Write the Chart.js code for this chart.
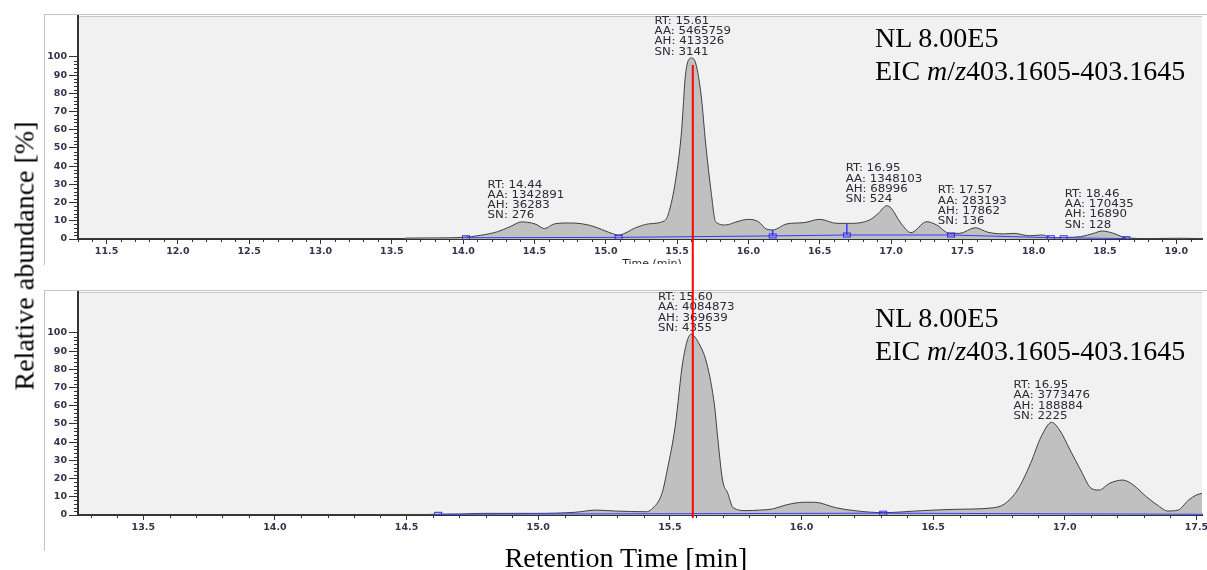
<!DOCTYPE html>
<html lang="en">
<head>
<meta charset="UTF-8">
<title>EIC m/z 403.1605-403.1645</title>
<script src="https://cdn.jsdelivr.net/npm/chart.js@4.4.0/dist/chart.umd.min.js"></script>
<style>
  html, body { margin: 0; padding: 0; background: #fff; }
  body { width: 1207px; height: 570px; position: relative; overflow: hidden;
         font-family: "Liberation Serif", "Times New Roman", serif; }
  .frame { position: absolute; left: 44px; width: 1163px;
           border-left: 1px solid #c4c4c4; border-top: 1px solid #c4c4c4; }
  #frameTop { top: 14px; height: 250px; }
  #frameBot { top: 290px; height: 260px; }
  canvas { position: absolute; left: 0; }
  #topChart { top: 0; }
  #botChart { top: 264px; }
  .nl { position: absolute; left: 875px; font-size: 28px; line-height: 33px; color: #000; white-space: nowrap; }
  .ytitle { position: absolute; left: 24px; top: 256px; font-size: 28px; line-height: 31px; white-space: nowrap;
            transform: translate(-50%, -50%) rotate(-90deg); }
  .xtitle { position: absolute; left: 626px; top: 542px; font-size: 28px; line-height: 31px; white-space: nowrap;
            transform: translateX(-50%); }
</style>
</head>
<body>
<div class="frame" id="frameTop"></div>
<div class="frame" id="frameBot"></div>
<canvas id="topChart" width="1207" height="264"></canvas>
<canvas id="botChart" width="1207" height="306"></canvas>

<div class="nl" style="top:21px">NL 8.00E5<br>EIC <i>m</i>/<i>z</i>403.1605-403.1645</div>
<div class="nl" style="top:301px">NL 8.00E5<br>EIC <i>m</i>/<i>z</i>403.1605-403.1645</div>
<div class="ytitle">Relative abundance [%]</div>
<div class="xtitle">Retention Time [min]</div>

<script>
// ---- data ----
const topTime = [11.30, 13.58, 13.60, 13.80, 14.00, 14.12, 14.24, 14.33, 14.41, 14.45, 14.51, 14.57, 14.64,
  14.74, 14.83, 14.92, 15.02, 15.09, 15.21, 15.30, 15.41, 15.44, 15.49, 15.53, 15.56, 15.60, 15.63, 15.67,
  15.70, 15.74, 15.77, 15.84, 15.92, 16.00, 16.07, 16.13, 16.17, 16.27, 16.39, 16.50, 16.62, 16.73, 16.85,
  16.91, 16.97, 17.00, 17.07, 17.14, 17.25, 17.32, 17.41, 17.48, 17.59, 17.68, 17.79, 17.86, 17.97, 18.06,
  18.13, 18.24, 18.33, 18.42, 18.48, 18.56, 18.65, 18.81, 18.99, 19.05, 19.18];
const topAbund = [0, 0, 0.5, 0.6, 0.9, 2, 4, 6.8, 9.4, 9.2, 8.1, 5.7, 8.3,
  8.8, 8.4, 6.8, 3.7, 2.2, 6.2, 8.3, 9.9, 14, 32.5, 58, 91, 99.4, 96.7, 78,
  52.7, 25, 9.5, 7.7, 9.5, 10.8, 9.5, 5.3, 5, 8.3, 9, 10.8, 8.6, 8.6, 10.5,
  14, 18.3, 17, 8.6, 3.5, 9.5, 7.7, 3.1, 3.1, 6.2, 3.7, 2.8, 3.1, 1.8, 2.2,
  0.7, 0.9, 1.3, 3.1, 4.4, 3.1, 0.6, 0.2, 0.4, 0.4, 0.2];

const botTime = [13.252, 14.38, 14.40, 14.57, 14.61, 14.70, 14.79, 14.99, 15.14, 15.22, 15.29, 15.41, 15.43,
  15.47, 15.49, 15.52, 15.55, 15.58, 15.61, 15.64, 15.67, 15.68, 15.70, 15.72, 15.74, 15.79, 15.84, 15.89,
  15.94, 16.01, 16.05, 16.13, 16.20, 16.31, 16.46, 16.58, 16.73, 16.77, 16.82, 16.87, 16.91, 16.95, 16.98,
  17.02, 17.06, 17.10, 17.13, 17.17, 17.22, 17.26, 17.31, 17.36, 17.39, 17.43, 17.47, 17.50, 17.521];
const botAbund = [0, 0, 0.3, 0.3, 0.4, 0.5, 0.9, 0.9, 1.5, 2.7, 2.2, 1.8, 3.1,
  11.9, 24.7, 48.5, 85, 99.3, 94.3, 83.3, 59.5, 44.9, 19.2, 11.9, 4, 2.4, 2.7, 3.3,
  5.5, 7, 7, 4, 2.4, 1.3, 2.4, 3.1, 4, 6, 13.7, 28.4, 43, 50.9, 46.7,
  35.7, 24.7, 14.7, 13.7, 17.4, 19.2, 16.5, 10, 4.6, 2.2, 2.7, 8.2, 11, 11.9];

// integration baselines and boundary markers
const topBaseTime = [14.02, 15.09, 16.17, 16.69, 17.42, 18.12, 18.21, 18.65];
const topBaseAbund = [0.7, 0.9, 1.7, 2.2, 2.2, 0.7, 0.7, 0.2];
const topDropTime = [16.17, 16.69];
const topDropTop = [5.0, 8.3];
const botBaseTime = [14.62, 16.31, 17.521];
const botBaseAbund = [0.4, 1.0, 0.4];
const botMarkTime = [14.62, 16.31];
const botMarkAbund = [0.4, 1.0];

// peak annotations
const topPeakRT = [14.44, 15.61, 16.95, 17.57, 18.46];
const topPeakAA = [1342891, 5465759, 1348103, 283193, 170435];
const topPeakAH = [36283, 413326, 68996, 17862, 16890];
const topPeakSN = [276, 3141, 524, 136, 128];
const topPeakApex = [9.4, 99.4, 18.3, 6.2, 4.4];
const botPeakRT = [15.60, 16.95];
const botPeakAA = [4084873, 3773476];
const botPeakAH = [369639, 188884];
const botPeakSN = [4355, 2225];
const botPeakApex = [99.3, 50.9];

// axes
const topXTicks = [11.5, 12.0, 12.5, 13.0, 13.5, 14.0, 14.5, 15.0, 15.5, 16.0, 16.5, 17.0, 17.5, 18.0, 18.5, 19.0];
const botXTicks = [13.5, 14.0, 14.5, 15.0, 15.5, 16.0, 16.5, 17.0, 17.5];
const yTicks = [0, 10, 20, 30, 40, 50, 60, 70, 80, 90, 100];
const topRange = [11.30, 19.18];
const botRange = [13.252, 17.521];
const yMax = 122.5;
const markedRT = 15.61;

// ---- helpers ----
const pts = (xs, ys) => xs.map((x, i) => ({ x: x, y: ys[i] }));

function boxMarker() {
  const c = document.createElement('canvas');
  c.width = 10; c.height = 7;
  const g = c.getContext('2d');
  g.strokeStyle = '#2b2bff';
  g.lineWidth = 1;
  g.strokeRect(1.5, 1.5, 7, 4);
  return c;
}
const marker = boxMarker();

const axisInk = '#333';
const tickFont = { family: 'DejaVu Sans', size: 9.5, weight: 'bold' };

const plotBackground = {
  id: 'plotBackground',
  beforeDraw(chart) {
    const { ctx, chartArea: a } = chart;
    ctx.save();
    ctx.fillStyle = '#f1f1f1';
    ctx.fillRect(a.left, a.top, a.right - a.left, a.bottom - a.top);
    ctx.strokeStyle = '#c8c8c8';
    ctx.lineWidth = 1;
    ctx.beginPath();
    ctx.moveTo(a.left, a.top + 0.5);
    ctx.lineTo(a.right, a.top + 0.5);
    ctx.stroke();
    ctx.restore();
  }
};

const minorTicks = {
  id: 'minorTicks',
  afterDraw(chart) {
    const { ctx, chartArea: a } = chart;
    const xs = chart.scales.x, ys = chart.scales.y;
    ctx.save();
    ctx.strokeStyle = axisInk;
    ctx.lineWidth = 1;
    ctx.beginPath();
    for (let k = Math.ceil(xs.min * 10); k <= Math.floor(xs.max * 10); k++) {
      if (k % 5 === 0) continue;
      const px = Math.round(xs.getPixelForValue(k / 10)) + 0.5;
      ctx.moveTo(px, a.bottom);
      ctx.lineTo(px, a.bottom + 3);
    }
    for (let v = 2; v < 100; v += 2) {
      if (v % 10 === 0) continue;
      const py = Math.round(ys.getPixelForValue(v)) + 0.5;
      ctx.moveTo(a.left - 4, py);
      ctx.lineTo(a.left, py);
    }
    ctx.stroke();
    ctx.restore();
  }
};

const peakLabels = {
  id: 'peakLabels',
  afterDatasetsDraw(chart, args, o) {
    const { ctx } = chart;
    const xs = chart.scales.x, ys = chart.scales.y;
    const sx = 1.18;
    ctx.save();
    ctx.font = '10px "DejaVu Sans"';
    ctx.fillStyle = '#2a2a34';
    ctx.textBaseline = 'middle';
    o.rt.forEach((rt, i) => {
      const lines = ['RT: ' + rt.toFixed(2), 'AA: ' + o.aa[i], 'AH: ' + o.ah[i], 'SN: ' + o.sn[i]];
      const w = Math.max(...lines.map(l => ctx.measureText(l).width)) * sx;
      const x0 = xs.getPixelForValue(rt) - w / 2;
      const yb = ys.getPixelForValue(o.apex[i]) - 6;
      lines.forEach((l, j) => {
        ctx.save();
        ctx.translate(x0, yb - (3 - j) * 10.3);
        ctx.scale(sx, 1);
        ctx.fillText(l, 0, 0);
        ctx.restore();
      });
    });
    if (o.title) {
      const a = chart.chartArea;
      ctx.textBaseline = 'top';
      ctx.textAlign = 'center';
      ctx.font = '11px "DejaVu Sans"';
      ctx.fillText(o.title, (a.left + a.right) / 2 + 12, a.bottom + 20);
    }
    ctx.restore();
  }
};

// red marker line: x taken from the top chart's scale so both panels line up
let topChart = null;
const redLine = {
  id: 'redLine',
  afterDraw(chart, args, o) {
    const { ctx } = chart;
    const xScale = topChart ? topChart.scales.x : chart.scales.x;
    const x = xScale.getPixelForValue(markedRT);
    const ys = chart.scales.y;
    const y1 = o.from === 'edge' ? 0 : ys.getPixelForValue(o.from);
    const y2 = o.to === 'edge' ? chart.height : ys.getPixelForValue(o.to);
    ctx.save();
    ctx.strokeStyle = '#ff0000';
    ctx.lineWidth = 2;
    ctx.beginPath();
    ctx.moveTo(x, y1);
    ctx.lineTo(x, y2);
    ctx.stroke();
    ctx.restore();
  }
};

function makeChart(id, cfg) {
  const datasets = [
    {
      data: pts(cfg.time, cfg.abund),
      borderColor: '#404040',
      borderWidth: 1,
      backgroundColor: '#c0c0c0',
      fill: 'origin',
      pointRadius: 0,
      cubicInterpolationMode: 'monotone',
      order: 3
    },
    {
      data: pts(cfg.baseTime, cfg.baseAbund),
      borderColor: '#3a3aff',
      borderWidth: 1,
      fill: false,
      pointRadius: 0,
      order: 2
    },
    {
      type: 'scatter',
      data: pts(cfg.markTime, cfg.markAbund),
      pointStyle: marker,
      pointRadius: 3,
      showLine: false,
      order: 1
    }
  ];
  if (cfg.drops) {
    const d = [];
    cfg.drops.time.forEach((t, i) => {
      d.push({ x: t, y: cfg.drops.base[i] }, { x: t, y: cfg.drops.top[i] }, { x: t + 0.01, y: null });
    });
    datasets.push({ data: d, borderColor: '#3a3aff', borderWidth: 1.5, pointRadius: 0, spanGaps: false, fill: false, order: 1 });
  }

  return new Chart(document.getElementById(id), {
    type: 'line',
    data: { datasets: datasets },
    plugins: [plotBackground, minorTicks, peakLabels, redLine],
    options: {
      responsive: false,
      animation: false,
      layout: { padding: { top: cfg.padTop, left: 0, right: 0, bottom: 0 } },
      plugins: {
        legend: { display: false },
        tooltip: { enabled: false },
        peakLabels: cfg.labels,
        redLine: cfg.red
      },
      scales: {
        x: {
          type: 'linear',
          min: cfg.range[0],
          max: cfg.range[1],
          z: 1,
          afterBuildTicks: s => { s.ticks = cfg.xTicks.map(v => ({ value: v })); },
          afterFit: s => { s.height = cfg.xHeight; s.paddingLeft = 0; s.paddingRight = 0; },
          ticks: {
            autoSkip: false, maxRotation: 0, padding: 2,
            font: tickFont, color: '#343450',
            callback: v => Number(v).toFixed(1)
          },
          grid: { drawOnChartArea: false, drawTicks: true, tickLength: 5, color: axisInk },
          border: { display: true, color: axisInk, width: 2 }
        },
        y: {
          type: 'linear',
          min: 0,
          max: yMax,
          z: 1,
          afterBuildTicks: s => { s.ticks = yTicks.map(v => ({ value: v })); },
          afterFit: s => { s.width = 78; s.paddingTop = 0; s.paddingBottom = 0; },
          ticks: { autoSkip: false, padding: 2, font: tickFont, color: '#343450' },
          grid: { drawOnChartArea: false, drawTicks: true, tickLength: 9, color: axisInk },
          border: { display: true, color: axisInk, width: 2 }
        }
      }
    }
  });
}

topChart = makeChart('topChart', {
  time: topTime, abund: topAbund,
  baseTime: topBaseTime, baseAbund: topBaseAbund,
  markTime: topBaseTime, markAbund: topBaseAbund,
  drops: { time: topDropTime, base: [1.7, 2.2], top: topDropTop },
  range: topRange, xTicks: topXTicks, padTop: 16, xHeight: 25,
  labels: { rt: topPeakRT, aa: topPeakAA, ah: topPeakAH, sn: topPeakSN, apex: topPeakApex, title: 'Time (min)' },
  red: { from: 95.6, to: 'edge' }
});

makeChart('botChart', {
  time: botTime, abund: botAbund,
  baseTime: botBaseTime, baseAbund: botBaseAbund,
  markTime: botMarkTime, markAbund: botMarkAbund,
  range: botRange, xTicks: botXTicks, padTop: 28, xHeight: 55,
  labels: { rt: botPeakRT, aa: botPeakAA, ah: botPeakAH, sn: botPeakSN, apex: botPeakApex },
  red: { from: 'edge', to: -1.6 }
});
</script>
</body>
</html>
